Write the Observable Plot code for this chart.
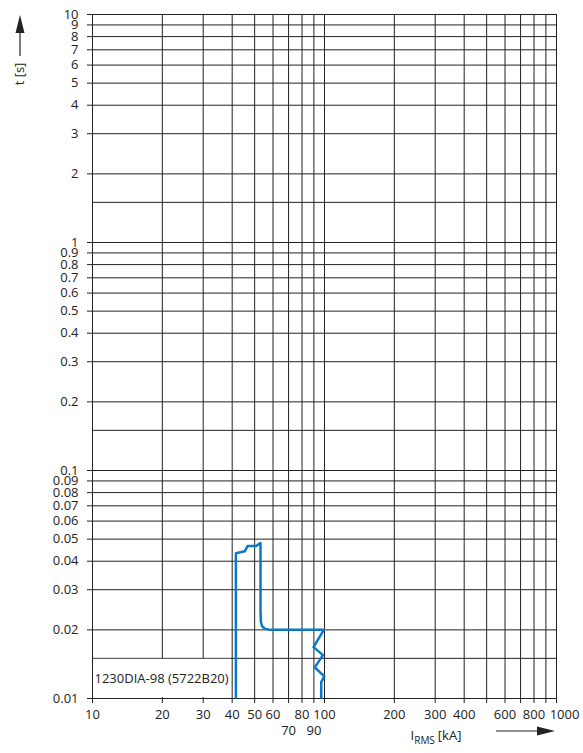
<!DOCTYPE html>
<html>
<head>
<meta charset="utf-8">
<script src="https://cdn.jsdelivr.net/npm/d3@7"></script>
<script src="https://cdn.jsdelivr.net/npm/@observablehq/plot@0.6"></script>
<style>
  html, body { margin: 0; padding: 0; background: #fff; }
  #chart svg { display: block; }
</style>
</head>
<body>
<div id="chart"></div>
<script>
// Grid / tick values
const xGrid = [10, 20, 30, 40, 50, 60, 70, 80, 90, 100, 200, 300, 400, 500, 600, 700, 800, 900, 1000];
const xLabelsRow1 = [10, 20, 30, 40, 50, 60, 80, 100, 200, 300, 400, 600, 800];
const xLabelsEnd = [1000];
const xLabelsRow2 = [70, 90];
const yGrid = [0.01, 0.015, 0.02, 0.03, 0.04, 0.05, 0.06, 0.07, 0.08, 0.09,
               0.1, 0.15, 0.2, 0.3, 0.4, 0.5, 0.6, 0.7, 0.8, 0.9,
               1, 1.5, 2, 3, 4, 5, 6, 7, 8, 9, 10];
const yLabels = [0.01, 0.02, 0.03, 0.04, 0.05, 0.06, 0.07, 0.08, 0.09,
                 0.1, 0.2, 0.3, 0.4, 0.5, 0.6, 0.7, 0.8, 0.9,
                 1, 2, 3, 4, 5, 6, 7, 8, 9, 10];

// Characteristic curve (I in kA, t in s)
const curveI = [41.5, 41.5, 45.3, 46.6, 50.8, 53.0, 53.0, 53.2, 53.9, 55.6, 58.5, 99.3, 89.7, 98.5, 90.8, 99.8, 96.8, 96.8];
const curveT = [0.01, 0.0434, 0.0442, 0.0466, 0.0467, 0.048, 0.024, 0.0216, 0.0207, 0.0202, 0.02, 0.02, 0.0168, 0.0155, 0.0137, 0.0125, 0.0118, 0.01];

const curveLabel = "1230DIA-98 (5722B20)";
const labelBox = {x1: 10, x2: 40, y1: 0.01, y2: 0.015};

const curve = curveI.map((I, i) => ({I, t: curveT[i]}));
const font = "'Open Sans', 'DejaVu Sans', sans-serif";
const ink = "#222";
const fs = 13;

const plot = Plot.plot({
  width: 583,
  height: 753,
  marginLeft: 92,
  marginRight: 27,
  marginTop: 14,
  marginBottom: 55,
  style: {fontFamily: font, fontSize: fs + "px", color: ink, background: "#fff"},
  x: {type: "log", domain: [10, 1000], axis: null},
  y: {type: "log", domain: [0.01, 10], axis: null},
  marks: [
    Plot.ruleX(xGrid, {stroke: ink, strokeWidth: 1}),
    Plot.ruleY(yGrid, {stroke: ink, strokeWidth: 1}),
    // y tick marks (outside the frame, left)
    Plot.ruleY(yLabels, {y: d => d, x1: 10, x2: 10, insetLeft: -5, stroke: ink, strokeWidth: 1}),
    // x tick marks (outside the frame, below)
    Plot.ruleX(xGrid, {x: d => d, y1: 0.01, y2: 0.01, insetBottom: -5, stroke: ink, strokeWidth: 1}),
    Plot.rect([labelBox], {x1: "x1", x2: "x2", y1: "y1", y2: "y2", fill: "#fff", inset: 1}),
    Plot.text([curveLabel], {x: labelBox.x1, y: Math.sqrt(labelBox.y1 * labelBox.y2), text: d => d,
      textAnchor: "start", dx: 2, fontSize: fs, fill: ink}),
    Plot.text(yLabels, {y: d => d, frameAnchor: "left", dx: -14, textAnchor: "end", lineAnchor: "middle",
      text: d => String(d), fontSize: fs, fill: ink}),
    Plot.text(xLabelsRow1, {x: d => d, frameAnchor: "bottom", lineAnchor: "middle", dy: 16,
      text: d => String(d), fontSize: fs, fill: ink}),
    Plot.text(xLabelsEnd, {x: d => d, frameAnchor: "bottom", lineAnchor: "middle", dy: 16, dx: 8,
      text: d => String(d), fontSize: fs, fill: ink}),
    Plot.text(xLabelsRow2, {x: d => d, frameAnchor: "bottom", lineAnchor: "middle", dy: 32,
      text: d => String(d), fontSize: fs, fill: ink}),
    Plot.line(curve, {x: "I", y: "t", stroke: "#0a78c8", strokeWidth: 2.5, strokeLinejoin: "round", strokeLinecap: "butt"})
  ]
});

document.getElementById("chart").appendChild(plot);

// Axis titles with arrows
const svg = d3.select(plot);
const g = svg.append("g").attr("fill", ink).attr("stroke", "none").style("font-family", font);

// Y title: t [s] with upward arrow
g.append("text")
  .attr("transform", "translate(24,74) rotate(-90)")
  .attr("text-anchor", "middle")
  .attr("font-size", fs)
  .text("t [s]");
g.append("line").attr("x1", 20).attr("x2", 20).attr("y1", 56).attr("y2", 30)
  .attr("stroke", ink).attr("stroke-width", 1.2);
g.append("path").attr("d", "M20,15 L15.5,33 L24.5,33 Z");

// X title: I_RMS [kA] with right arrow
const xt = g.append("text").attr("x", 436).attr("y", 740).attr("font-size", fs);
xt.append("tspan").text("I");
xt.append("tspan").attr("font-size", 10).attr("dy", 4).text("RMS");
xt.append("tspan").attr("dy", -4).attr("dx", 3).text("[kA]");
g.append("line").attr("x1", 496).attr("x2", 540).attr("y1", 731).attr("y2", 731)
  .attr("stroke", ink).attr("stroke-width", 1.2);
g.append("path").attr("d", "M555,731 L537,726.5 L537,735.5 Z");
</script>
</body>
</html>
